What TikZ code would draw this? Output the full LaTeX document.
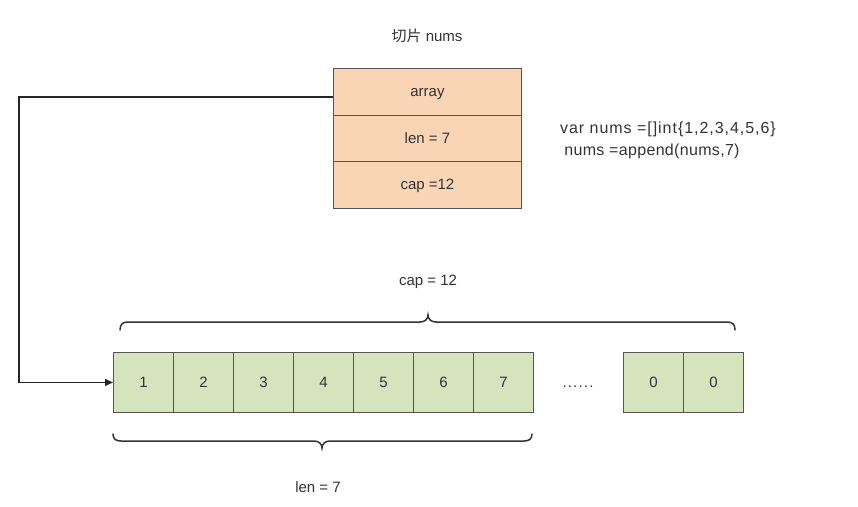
\documentclass[tikz,border=0pt]{standalone}
\usepackage{fontspec}
\setmainfont{Liberation Sans}
\newfontfamily\cjk{Noto Sans CJK SC}
\newfontfamily\codewide[LetterSpace=6]{Liberation Sans}
\newfontfamily\codenarrow[LetterSpace=2]{Liberation Sans}
\usetikzlibrary{arrows.meta,positioning}
\definecolor{peach}{HTML}{F9D4B5}
\definecolor{leaf}{HTML}{D6E4BD}
\definecolor{ink}{HTML}{333333}
\definecolor{edge}{HTML}{555555}
\tikzset{
  txt/.style={text=ink,font=\fontsize{15}{18}\selectfont,inner sep=0pt,text height=12pt,text depth=2pt},
  field/.style={txt,draw=edge,fill=peach,minimum width=188pt,minimum height=47pt,line width=0.9pt,anchor=north west},
  cell/.style={txt,draw=edge,fill=leaf,minimum width=60pt,minimum height=60pt,line width=0.9pt,anchor=north west},
  brace/.style={draw=ink,line width=1.5pt,line cap=round},
  link/.style={draw=black!85,line width=1.3pt},
  linkhead/.style={arrows={-Triangle[length=8pt,width=7pt]}}
}
\begin{document}
\begin{tikzpicture}[x=1pt,y=-1pt]
\path[use as bounding box] (0,0) rectangle (858,506);
% title
\node[txt] (title) at (427,36) {{\cjk 切片} nums};
% struct
\node[field] (arr) at (333,68) {array};
\node[field] (len) at (333,114.5) {len = 7};
\node[field] (cap) at (333,161) {cap =12};
% code
\node[txt,font=\fontsize{16}{18}\codewide] (code1) at (668,128) {var nums =[]int\{1,2,3,4,5,6\}};
\node[txt,font=\fontsize{16}{18}\codenarrow] (code2) at (652,150) {nums =append(nums,7)};
% cells
\node[cell] (c1) at (113,352) {1};
\node[cell] (c2) at (173,352) {2};
\node[cell] (c3) at (233,352) {3};
\node[cell] (c4) at (293,352) {4};
\node[cell] (c5) at (353,352) {5};
\node[cell] (c6) at (413,352) {6};
\node[cell] (c7) at (473,352) {7};
\node[txt,anchor=base] (dots) at (578,387) {.\kern1.2pt.\kern1.2pt.\kern1.2pt.\kern1.2pt.\kern1.2pt.};
\node[cell] (z1) at (623,352) {0};
\node[cell] (z2) at (683,352) {0};
% labels
\node[txt] (caplbl) at (428,280) {cap = 12};
\node[txt] (lenlbl) at (318,487) {len = 7};
% braces
\draw[brace] (120,330) .. controls (120,324) and (123,322) .. (128,322)
  -- (420,322) .. controls (425,322) and (428,319) .. (428,315)
  .. controls (428,319) and (431,322) .. (436,322)
  -- (727,322) .. controls (732,322) and (735,324) .. (735,330);
\draw[brace] (113,434) .. controls (113,439) and (116,441) .. (121,441)
  -- (314,441) .. controls (319,441) and (322,444) .. (322,448)
  .. controls (322,444) and (325,441) .. (330,441)
  -- (524,441) .. controls (529,441) and (532,439) .. (532,434);
% pointer
\coordinate (start) at (333,97);
\coordinate (corner) at (19,97);
\draw[link,linkhead] (start) -- (corner) |- (c1.west);
\end{tikzpicture}
\end{document}
